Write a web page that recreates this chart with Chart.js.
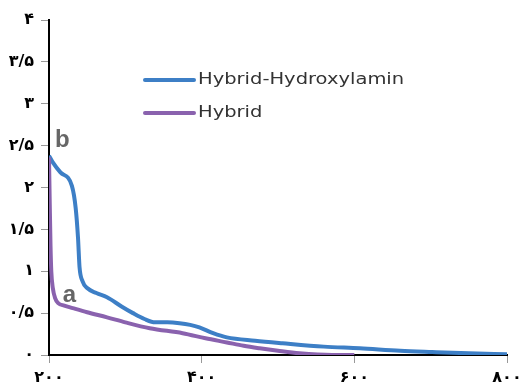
<!DOCTYPE html>
<html>
<head>
<meta charset="utf-8">
<script src="https://cdn.jsdelivr.net/npm/chart.js@4/dist/chart.umd.min.js"></script>
<style>
  html, body { margin: 0; padding: 0; background: #fff; }
  #wrap { width: 532px; height: 387px; }
</style>
</head>
<body>
<div id="wrap"><canvas id="chart" width="532" height="387"></canvas></div>
<script>
// Hybrid-Hydroxylamin (curve b)
const hydroxX = [200, 205, 215, 230, 235, 238, 240, 244, 250, 262, 276, 295, 310, 325, 339, 355, 371, 385, 397, 415, 433, 470, 506, 560, 607, 660, 702, 750, 800];
const hydroxY = [2.38, 2.3, 2.18, 2.02, 1.75, 1.4, 1.05, 0.88, 0.8, 0.74, 0.69, 0.58, 0.5, 0.43, 0.39, 0.39, 0.38, 0.36, 0.33, 0.26, 0.21, 0.17, 0.14, 0.1, 0.08, 0.05, 0.035, 0.02, 0.01];

// Hybrid (curve a)
const hybridX = [200, 201, 202, 203, 205, 208, 212, 220, 231, 250, 276, 300, 332, 375, 405, 433, 455, 476, 500, 528, 571, 600];
const hybridY = [2.36, 1.8, 1.3, 1.0, 0.8, 0.68, 0.62, 0.59, 0.56, 0.51, 0.45, 0.39, 0.32, 0.26, 0.2, 0.15, 0.11, 0.08, 0.05, 0.02, 0.0, 0.0];

const xTicks = [200, 400, 600, 800];
const yTicks = [0, 0.5, 1, 1.5, 2, 2.5, 3, 3.5, 4];
const seriesNames = ['Hybrid-Hydroxylamin', 'Hybrid'];
const seriesColors = ['#3d7fc6', '#8a62ae'];

function toPersian(v) {
    const digits = '۰۱۲۳۴۵۶۷۸۹';
    return String(v).replace(/[0-9]/g, d => digits[d]).replace('.', '/');
}

function pairs(xs, ys) {
    return xs.map((x, i) => ({ x: x, y: ys[i] }));
}

// legend and a / b labels
const extras = {
    id: 'extras',
    afterDatasetsDraw(chart) {
        const ctx = chart.ctx;
        const xs = chart.scales.x, ys = chart.scales.y;
        ctx.save();
        const rows = [80, 113];
        seriesNames.forEach((name, i) => {
            ctx.strokeStyle = seriesColors[i];
            ctx.lineWidth = 4;
            ctx.lineCap = 'round';
            ctx.beginPath();
            ctx.moveTo(145, rows[i]);
            ctx.lineTo(194, rows[i]);
            ctx.stroke();
            ctx.fillStyle = '#333';
            ctx.font = '15px "DejaVu Sans"';
            ctx.textBaseline = 'middle';
            // the text in the picture is stretched sideways
            ctx.save();
            ctx.translate(198, rows[i]);
            ctx.scale(1.3, 1);
            ctx.fillText(name, 0, 0);
            ctx.restore();
        });
        ctx.fillStyle = '#666';
        ctx.font = 'bold 24px "Liberation Sans"';
        ctx.textBaseline = 'alphabetic';
        ctx.fillText('b', xs.getPixelForValue(208), ys.getPixelForValue(2.48));
        ctx.fillText('a', xs.getPixelForValue(218), ys.getPixelForValue(0.63));
        ctx.restore();
    }
};

new Chart(document.getElementById('chart'), {
    type: 'line',
    data: {
        datasets: [{
            label: seriesNames[0],
            data: pairs(hydroxX, hydroxY),
            borderColor: seriesColors[0],
            borderWidth: 4,
            pointRadius: 0,
            cubicInterpolationMode: 'monotone',
            order: 2
        }, {
            label: seriesNames[1],
            data: pairs(hybridX, hybridY),
            borderColor: seriesColors[1],
            borderWidth: 4,
            pointRadius: 0,
            cubicInterpolationMode: 'monotone',
            order: 1
        }]
    },
    options: {
        responsive: false,
        animation: false,
        layout: { padding: { top: 20, right: 25, left: 0, bottom: 0 } },
        plugins: {
            legend: { display: false },
            tooltip: { enabled: false }
        },
        scales: {
            x: {
                type: 'linear',
                min: 200,
                max: 800,
                afterBuildTicks: s => { s.ticks = xTicks.map(v => ({ value: v })); },
                afterFit: s => { s.height = 32; },
                ticks: {
                    callback: v => toPersian(v),
                    color: '#000',
                    font: { family: 'DejaVu Sans', size: 16, weight: 'bold' },
                    padding: 5,
                    maxRotation: 0
                },
                grid: { drawOnChartArea: false, tickLength: 8, color: '#999' },
                border: { color: '#000', width: 2 }
            },
            y: {
                min: 0,
                max: 4,
                afterBuildTicks: s => { s.ticks = yTicks.map(v => ({ value: v })); },
                afterFit: s => { s.width = 49; },
                ticks: {
                    callback: v => toPersian(v),
                    color: '#000',
                    font: { family: 'DejaVu Sans', size: 16, weight: 'bold' },
                    padding: 7
                },
                grid: { drawOnChartArea: false, tickLength: 8, color: '#999' },
                border: { color: '#000', width: 2 }
            }
        }
    },
    plugins: [extras]
});
</script>
</body>
</html>
